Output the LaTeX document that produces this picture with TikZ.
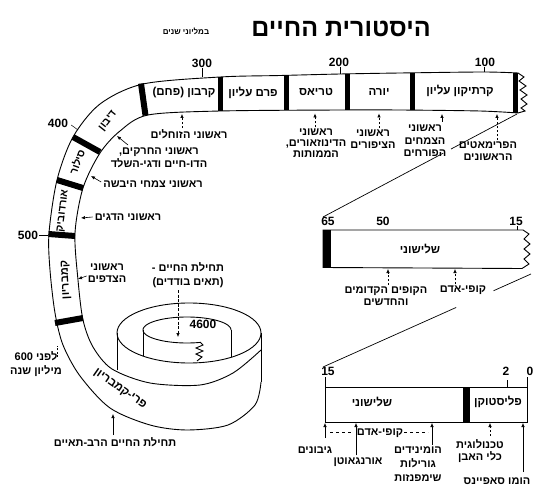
\documentclass[tikz,border=0pt]{standalone}
\usepackage{fontspec}
\setmainfont{Liberation Sans}
\newfontfamily\heb[Script=Hebrew]{Liberation Sans}
\TeXXeTstate=1
\usetikzlibrary{arrows.meta,calc}
\newcommand{\RL}[1]{\beginR #1\endR}
\tikzset{
  rim/.style={line width=0.9pt},
  sepbar/.style={line width=6pt},
  lab/.style={font=\heb\bfseries\fontsize{11}{12.5}\selectfont, align=center, inner sep=0pt},
  band/.style={font=\heb\bfseries\fontsize{11.5}{13}\selectfont, inner sep=0pt},
  rband/.style={font=\heb\bfseries\fontsize{10.5}{12}\selectfont, inner sep=0pt},
  num/.style={font=\bfseries\fontsize{12}{13}\selectfont, inner sep=0pt},
  arr/.style={-{Latex[length=4pt,width=3.5pt]}, line width=0.6pt},
  darr/.style={arr, dash pattern=on 2.5pt off 1.5pt},
}
\begin{document}
\begin{tikzpicture}[x=1pt,y=-1pt]
\useasboundingbox (0,0) rectangle (542,495);

% ---------- title ----------
\node[font=\heb\bfseries\fontsize{25}{28}\selectfont, inner sep=0pt] (title) at (341,29) {\RL{היסטורית החיים}};
\node[font=\heb\bfseries\fontsize{8}{9}\selectfont, inner sep=0pt] (units) at (186,31) {\RL{במליוני שנים}};

% ---------- separator bars of the long ribbon ----------
\draw[sepbar] (141,83.5) -- (145.5,115.5);
\draw[sepbar] (73,137) -- (100,152);
\draw[sepbar] (57,180) -- (83,188);
\draw[sepbar] (48.5,234) -- (75,236);
\draw[sepbar] (55,323) -- (83,318);
\draw[sepbar, line width=5pt] (220.5,77) -- (220.5,111);
\draw[sepbar, line width=5pt] (286.5,75.5) -- (286.5,110.5);
\draw[sepbar, line width=5pt] (347.5,74) -- (347.5,110);
\draw[sepbar, line width=5pt] (412.5,73) -- (412.5,110.5);
\draw[sepbar, line width=5pt] (515.5,73) -- (515.5,113);

% ---------- ribbon edges ----------
\draw[rim] plot[smooth] coordinates {(518,73) (483,72) (400,73) (340,74) (280,75.5) (220,77) (143,84) (100,104) (73,137) (57,180) (49,233) (50,270) (55,313) (63,345) (80,376) (110,408) (150,425) (187,430) (228,425) (255,405) (261,382)};
\draw[rim] plot[smooth] coordinates {(518,113) (480,111) (400,110) (340,110) (220,111) (148,115) (120,131) (100,153) (83,188) (75,233) (78,280) (83,320) (93,347) (112,369) (150,383) (200,385) (233,373) (261,350)};
\draw[rim] (518,73) -- (524,77) -- (519,81) -- (526,86) -- (520,90) -- (527,95) -- (521,99) -- (527,104) -- (521,108) -- (525,111) -- (518,113);

% ---------- spiral ----------
\draw[rim] (261,333) -- (261,382);
\draw[rim] (189,333) ellipse [x radius=72pt, y radius=30pt];
\draw[rim] (117,333) -- (117,370);
\draw[rim] plot[domain=72.8:360, samples=80] ({187+44*cos(\x)},{330+13*sin(\x)});
\draw[rim] (143,330) -- (143,356);
\draw[rim] (231,330) -- (231,357);
\draw[rim] (200,342) -- (203,345) -- (196,348) -- (203,351) -- (196,354) -- (202,357) -- (197,361);

% ---------- period names ----------
\node[band] (carb) at (184,93) {\RL{קרבון (פחם)}};
\node[band] (perm) at (253,93) {\RL{פרם עליון}};
\node[band] (trias) at (316,92) {\RL{טריאס}};
\node[band] (jura) at (379,92) {\RL{יורה}};
\node[band] (cret) at (460,91) {\RL{קרתיקון עליון}};
\node[rband, rotate=52] (devon) at (108,121) {\RL{דיבון}};
\node[rband, rotate=70] (silur) at (77,162) {\RL{סילור}};
\node[rband, rotate=83] (ordo) at (63,211) {\RL{אורדוביק}};
\node[rband, font=\heb\bfseries\fontsize{11}{12}\selectfont, rotate=93] (camb) at (66,280) {\RL{קמבריון}};
\node[band, rotate=-35] (precamb) at (120,389) {\RL{פרי-קמבריון}};

% ---------- numbers on the long ribbon ----------
\node[num] (n300) at (202,63) {300};
\node[num] (n200) at (339,62) {200};
\node[num] (n100) at (485,62) {100};
\node[num] (n400) at (58,123) {400};
\node[num] (n500) at (28,235) {500};
\coordinate (t300) at (202,77);
\coordinate (t200) at (340,74);
\coordinate (t100) at (484,72);
\coordinate (t400) at (78,130);
\coordinate (t500) at (48,235);
\draw[line width=0.5pt] (t300 |- n300.south) ++(0,1) -- (t300);
\draw[line width=0.5pt] (t200 |- n200.south) ++(0,1) -- (t200);
\draw[line width=0.5pt] (t100 |- n100.south) ++(0,1) -- (t100);
\draw[line width=0.5pt] (n400.east) ++(3,2) -- (t400);
\draw[line width=0.5pt] (n500.east) ++(1,0) -- (t500);

% ---------- labels below the top ribbon ----------
\node[lab] (lrept) at (189,134) {\RL{ראשוני הזוחלים}};
\coordinate (aRept) at (182,114);
\draw[darr] (aRept |- lrept.north) ++(0,-1) -- (aRept);

\node[lab, font=\heb\bfseries\fontsize{11}{11}\selectfont] (ldino) at (316,143) {\RL{ראשוני}\\\RL{הדינוזאורים,}\\\RL{הממותות}};
\coordinate (aDino) at (315,113.5);
\draw[darr] (aDino |- ldino.north) ++(0,-1) -- (aDino);

\node[lab] (lbird) at (373,139) {\RL{ראשוני}\\\RL{הציפורים}};
\coordinate (aBird) at (379,113.5);
\draw[darr] (aBird |- lbird.north) ++(0,-1) -- (aBird);

\node[lab] (lflow) at (425,141) {\RL{ראשוני}\\\RL{הצמחים}\\\RL{הפורחים}};
\coordinate (aFlow) at (442,114);
\draw[darr] (442,122) -- (aFlow);

\node[lab] (lprim) at (488,151) {\RL{הפרימאטים}\\\RL{הראשונים}};
\coordinate (aPrim) at (497,114);
\draw[darr] (aPrim |- lprim.north) ++(0,-1) -- (aPrim);

% ---------- labels at the left bend ----------
\node[lab] (linsect) at (159,158) {\RL{ראשוני החרקים,}\\\RL{הדו-חיים ודגי-השלד}};
\coordinate (aInsect) at (117,136);
\draw[arr] (128,145) -- (aInsect);

\node[lab] (lland) at (153,184) {\RL{ראשוני צמחי היבשה}};
\coordinate (aLand) at (91,176);
\draw[arr] (lland.west) ++(-2,-2) -- (aLand);

\node[lab] (lfish) at (128,217) {\RL{ראשוני הדגים}};
\coordinate (aFish) at (81,218);
\draw[arr] (lfish.west) ++(-2,0) -- (aFish);

\node[lab] (lshell) at (107,273) {\RL{ראשוני}\\\RL{הצדפים}};
\coordinate (aShell) at (78,279);
\draw[arr] (lshell.west) ++(-1,3) -- (aShell);

\node[lab, font=\heb\bfseries\fontsize{11}{13.5}\selectfont] (l600) at (36,364) {\RL{לפני \beginL600\endL}\\\RL{מיליון שנה}};
\coordinate (a600) at (57,346);
\draw[line width=0.5pt, dash pattern=on 2pt off 1.5pt] (57,357) -- (a600);

\node[lab] (lmulti) at (115,442) {\RL{תחילת החיים הרב-תאיים}};
\coordinate (aMulti) at (113,414);
\draw[arr] (aMulti |- lmulti.north) ++(0,-2) -- (aMulti);

\node[lab, font=\heb\bfseries\fontsize{11}{14}\selectfont] (lsingle) at (188,275) {\RL{תחילת החיים -}\\\RL{(תאים בודדים)}};
\coordinate (aSingle) at (178,337);
\draw[arr, dash pattern=on 3pt off 1.5pt] (178,290) -- (aSingle);
\node[num] (n4600) at (203,324) {4600};

% ---------- zoom lines ----------
\coordinate (topR) at (517,114);
\coordinate (midL) at (323,217);
\draw[line width=0.7pt] (topR) -- ($(topR)!0.34!(midL)$);
\draw[line width=0.7pt] ($(topR)!0.38!(midL)$) -- (midL);
\coordinate (midR) at (531,274);
\coordinate (botL) at (323,367);
\draw[line width=0.7pt] (midR) -- ($(midR)!0.18!(botL)$);
\draw[line width=0.7pt] ($(midR)!0.36!(botL)$) -- (botL);

% ---------- middle strip ----------
\fill (323,230) rectangle (331,267.5);
\draw[rim] (523,230) -- (323,230) -- (323,267.5) -- (522,268.5);
\draw[rim] (523,230) -- (529,234) -- (524,239) -- (530,244) -- (524,249) -- (530,254) -- (524,259) -- (529,264) -- (522,268.5);
\node[num] (n65) at (328,221) {65};
\node[num] (n50) at (383,221) {50};
\node[num] (n15a) at (516,221) {15};
\coordinate (t15a) at (517,230);
\draw[line width=0.5pt] (t15a |- n15a.south) ++(0,1) -- (t15a);
\node[band] (tert1) at (420,249) {\RL{שלישוני}};
\node[lab] (lapes) at (386,296) {\RL{הקופים הקדומים}\\\RL{והחדשים}};
\coordinate (aApes) at (388,269);
\draw[darr] (aApes |- lapes.north) ++(0,-1) -- (aApes);
\node[lab] (lhomin) at (463,290) {\RL{קופי-אדם}};
\coordinate (aHomin) at (455,269);
\draw[darr] (aHomin |- lhomin.north) ++(0,-1) -- (aHomin);

% ---------- bottom strip ----------
\fill (463,387) rectangle (470,422);
\draw[rim] (325,377) -- (325,422) -- (527,422) -- (527,377);
\draw[rim] (325,387) -- (527,387);
\draw[line width=0.5pt] (507,380) -- (507,387);
\node[num] (n15b) at (328,371) {15};
\node[num] (n2) at (506,371) {2};
\node[num] (n0) at (530,371) {0};
\node[band] (tert2) at (372,402) {\RL{שלישוני}};
\node[band] (pleist) at (498,402) {\RL{פליסטוקן}};

\node[lab] (lgib) at (315,450) {\RL{גיבונים}};
\coordinate (aGib) at (325,423);
\draw[arr] (325,438) -- (aGib);
\coordinate (dashA) at (353,432);
\draw[line width=0.7pt, dash pattern=on 3pt off 3pt] (330,432) -- (dashA);
\node[lab] (lorang) at (358,462) {\RL{אורנגאוטן}};
\coordinate (aOrang) at (356,423);
\draw[arr] (aOrang |- lorang.north) ++(0,-2) -- (aOrang);
\node[lab] (lape2) at (380,433) {\RL{קופי-אדם}};
\coordinate (dashB) at (428,432);
\draw[line width=0.7pt, dash pattern=on 3pt off 3pt] (404,432) -- (dashB);
\coordinate (aGor) at (432,423);
\draw[arr] (432,445) -- (aGor);
\node[lab, font=\heb\bfseries\fontsize{11}{14}\selectfont] (lgor) at (418,464) {\RL{הומינידים}\\\RL{גורילות}\\\RL{שימפנזות}};
\node[lab, font=\heb\bfseries\fontsize{11}{12}\selectfont] (ltech) at (480,451) {\RL{טכנולוגית}\\\RL{כלי האבן}};
\coordinate (aTech) at (490,423);
\draw[darr] (490,436) -- (aTech);
\node[lab] (lsap) at (497,481) {\RL{הומו סאפיינס}};
\coordinate (aSap) at (523,423);
\draw[arr] (523,472) -- (aSap);
\end{tikzpicture}
\end{document}
